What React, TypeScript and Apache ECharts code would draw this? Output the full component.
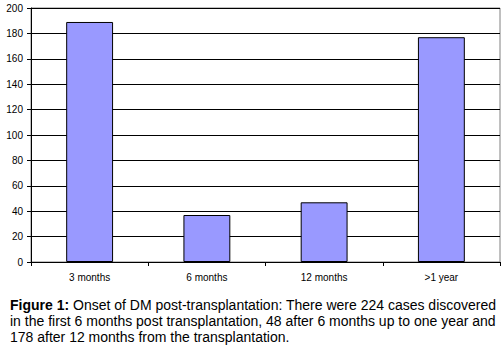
import React, { useEffect, useRef } from "react";
import * as echarts from "echarts";

const categories = ["3 months", "6 months", "12 months", ">1 year"];
const values = [189, 37, 47, 177];
const yTicks = { min: 0, max: 200, interval: 20 };
const captionLines = [
  ["Figure 1:", " Onset of DM post-transplantation: There were 224 cases discovered"],
  ["", "in the first 6 months post transplantation, 48 after 6 months up to one year and"],
  ["", "178 after 12 months from the transplantation."],
];

export default function App() {
  const ref = useRef<HTMLDivElement>(null);
  useEffect(() => {
    const chart = echarts.init(ref.current!, null, { renderer: "svg" });
    const font = "Arial, 'Liberation Sans', sans-serif";
    chart.setOption({
      animation: false,
      backgroundColor: "#fff",
      grid: { left: 31, right: 4, top: 8, bottom: 89, show: true, borderColor: "#808080", borderWidth: 1 },
      xAxis: {
        type: "category",
        data: categories,
        axisLine: { lineStyle: { color: "#000", width: 1 } },
        axisTick: { show: true, length: 4, inside: false, lineStyle: { color: "#000" } },
        axisLabel: { color: "#000", fontSize: 10, fontFamily: font, margin: 10 },
      },
      yAxis: {
        type: "value",
        min: yTicks.min,
        max: yTicks.max,
        interval: yTicks.interval,
        axisLine: { show: true, lineStyle: { color: "#000", width: 1 } },
        axisTick: { show: true, length: 4, lineStyle: { color: "#000" } },
        axisLabel: { color: "#000", fontSize: 10, fontFamily: font, margin: 8 },
        splitLine: { show: true, lineStyle: { color: "#000", width: 1 } },
      },
      series: [
        {
          type: "bar",
          data: values,
          barCategoryGap: "60%",
          itemStyle: { color: "#9999ff", borderColor: "#000", borderWidth: 1 },
        },
      ],
      graphic: captionLines.map((l, i) => ({
        type: "text",
        left: 10,
        top: 298 + i * 16,
        style: {
          text: (l[0] ? "{b|" + l[0] + "}" : "") + "{n|" + l[1] + "}",
          rich: {
            b: { fontWeight: "bold", fontSize: 14, fontFamily: font, fill: "#000" },
            n: { fontSize: 14, fontFamily: font, fill: "#000" },
          },
        },
      })),
    });
    return () => chart.dispose();
  }, []);
  return <div ref={ref} style={{ width: 504, height: 351, position: "absolute", left: 0, top: 0 }} />;
}
